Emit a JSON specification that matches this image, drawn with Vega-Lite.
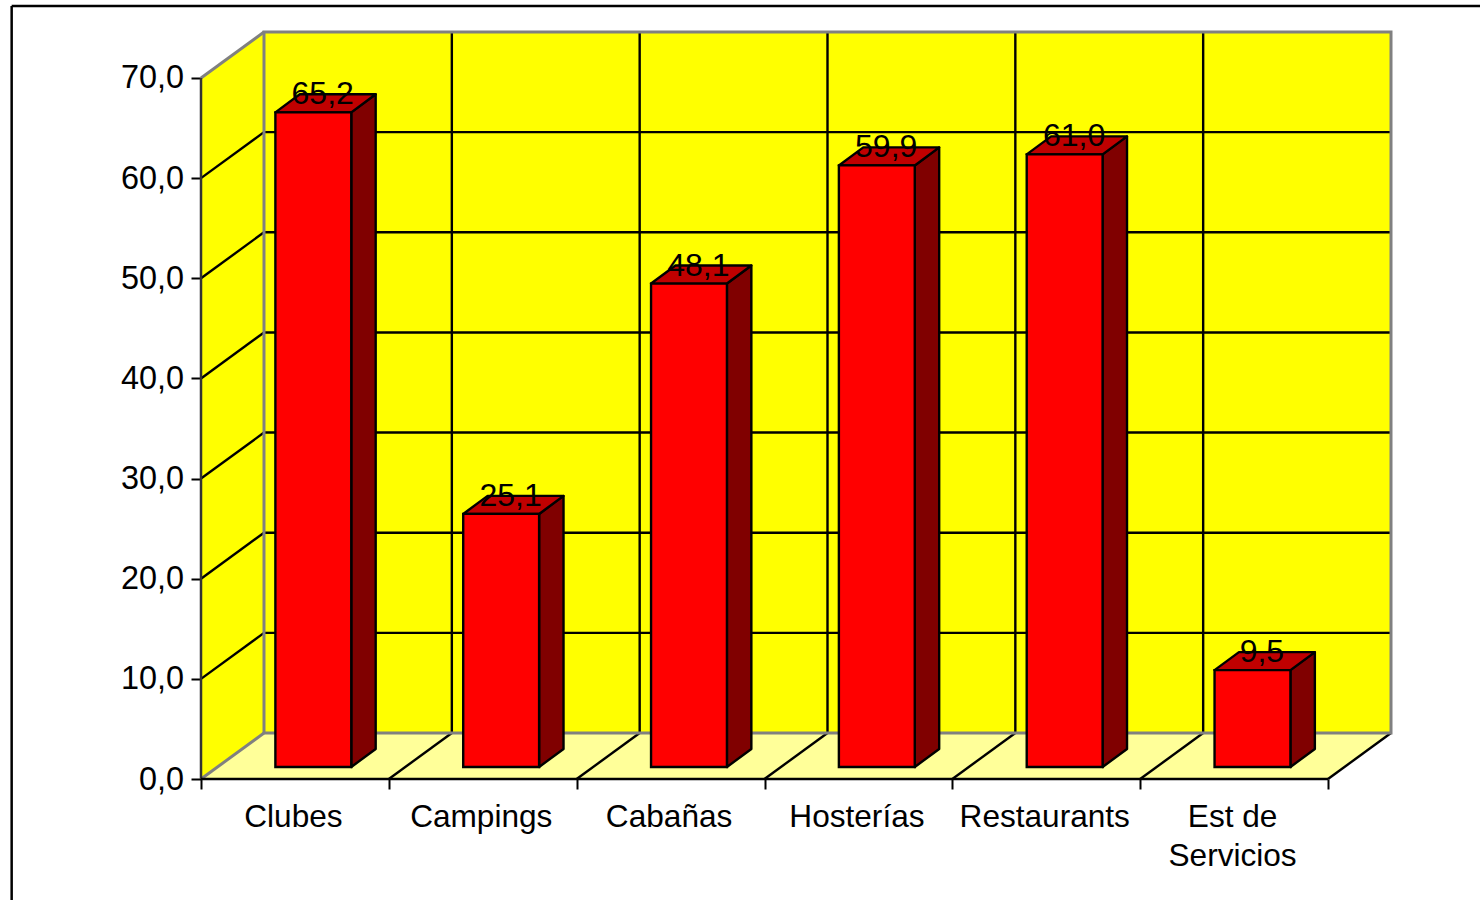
{"$schema":"https://vega.github.io/schema/vega-lite/v6.json","width":1190,"height":747,"autosize":"none","padding":{"left":201,"top":32,"right":89,"bottom":121},"background":"#ffffff","config":{"view":{"stroke":null}},
"resolve":{"axis":{"x":"independent","y":"independent"}},
"datasets":{"bars":[{"cat":"Clubes","idx":0,"value":65.2},{"cat":"Campings","idx":1,"value":25.1},{"cat":"Cabañas","idx":2,"value":48.1},{"cat":"Hosterías","idx":3,"value":59.9},{"cat":"Restaurants","idx":4,"value":61.0},{"cat":"Est de\nServicios","idx":5,"value":9.5}],"ticks":[{"v":0},{"v":10},{"v":20},{"v":30},{"v":40},{"v":50},{"v":60},{"v":70}],"splits":[{"k":0},{"k":1},{"k":2},{"k":3},{"k":4},{"k":5},{"k":6}],"depth":[{"d":0},{"d":1}],"one":[{"n":1}]},
"layer":[
{"data":{"name":"one"},"mark":{"type":"rect","fill":"#ffff00"},"encoding":{"x":{"datum":0.3354,"type":"quantitative","scale":{"domain":[0,6.3354],"nice":false,"zero":false},"axis":{"values":[0,1,2,3,4,5,6],"title":null,"labels":false,"domain":false,"grid":false,"tickSize":10,"tickWidth":2,"tickColor":"#000000"}},"x2":{"datum":6.3354},"y":{"datum":4.593,"type":"quantitative","scale":{"domain":[0,74.593],"nice":false,"zero":false},"axis":{"values":[0,10,20,30,40,50,60,70],"title":null,"domain":false,"grid":false,"tickSize":10,"tickWidth":2,"tickColor":"#000000","labelFont":"Liberation Sans","labelFontSize":32.4,"labelColor":"#000000","labelPadding":7.5,"labelExpr":"replace(format(datum.value,'.1f'),'.',',')"}},"y2":{"datum":74.593}}},
{"data":{"name":"depth"},"transform":[{"calculate":"0.3354*datum.d","as":"wx"},{"calculate":"4.593*datum.d","as":"wy"},{"calculate":"70+4.593*datum.d","as":"wy2"}],"mark":{"type":"area","fill":"#ffff00","orient":"vertical"},"encoding":{"x":{"field":"wx","type":"quantitative","scale":{"domain":[0,6.3354],"nice":false,"zero":false},"axis":null},"y":{"field":"wy","type":"quantitative","scale":{"domain":[0,74.593],"nice":false,"zero":false},"axis":null},"y2":{"field":"wy2"}}},
{"data":{"name":"depth"},"transform":[{"calculate":"0.3354*datum.d","as":"fx"},{"calculate":"6+0.3354*datum.d","as":"fx2"},{"calculate":"4.593*datum.d","as":"fy"}],"mark":{"type":"area","fill":"#ffff99","orient":"horizontal"},"encoding":{"y":{"field":"fy","type":"quantitative","scale":{"domain":[0,74.593],"nice":false,"zero":false},"axis":null},"x":{"field":"fx","type":"quantitative","scale":{"domain":[0,6.3354],"nice":false,"zero":false},"axis":null},"x2":{"field":"fx2"}}},
{"data":{"name":"ticks"},"transform":[{"filter":"datum.v>0 && datum.v<70"},{"calculate":"datum.v+4.593","as":"vb"},{"calculate":"0","as":"x0"},{"calculate":"0.3354","as":"x1"},{"calculate":"6.3354","as":"x2"}],"layer":[
{"mark":{"type":"rule","stroke":"#000000","strokeWidth":2.4},"encoding":{"x":{"field":"x0","type":"quantitative","scale":{"domain":[0,6.3354],"nice":false,"zero":false},"axis":null},"x2":{"field":"x1"},"y":{"field":"v","type":"quantitative","scale":{"domain":[0,74.593],"nice":false,"zero":false},"axis":null},"y2":{"field":"vb"}}},
{"mark":{"type":"rule","stroke":"#000000","strokeWidth":2.4},"encoding":{"x":{"field":"x1","type":"quantitative","scale":{"domain":[0,6.3354],"nice":false,"zero":false},"axis":null},"x2":{"field":"x2"},"y":{"field":"vb","type":"quantitative","scale":{"domain":[0,74.593],"nice":false,"zero":false},"axis":null}}}]},
{"data":{"name":"splits"},"transform":[{"filter":"datum.k>0"},{"calculate":"datum.k+0.3354","as":"kb"},{"calculate":"4.593","as":"yb"},{"calculate":"74.593","as":"yt"},{"calculate":"0","as":"y0"}],"layer":[
{"mark":{"type":"rule","stroke":"#000000","strokeWidth":2.4},"encoding":{"x":{"field":"k","type":"quantitative","scale":{"domain":[0,6.3354],"nice":false,"zero":false},"axis":null},"x2":{"field":"kb"},"y":{"field":"y0","type":"quantitative","scale":{"domain":[0,74.593],"nice":false,"zero":false},"axis":null},"y2":{"field":"yb"}}},
{"transform":[{"filter":"datum.k<6"}],"mark":{"type":"rule","stroke":"#000000","strokeWidth":2.4},"encoding":{"x":{"field":"kb","type":"quantitative","scale":{"domain":[0,6.3354],"nice":false,"zero":false},"axis":null},"y":{"field":"yb","type":"quantitative","scale":{"domain":[0,74.593],"nice":false,"zero":false},"axis":null},"y2":{"field":"yt"}}}]},
{"data":{"name":"one"},"mark":{"type":"rect","fill":null,"stroke":"#808080","strokeWidth":3},"encoding":{"x":{"datum":0.3354,"type":"quantitative","scale":{"domain":[0,6.3354],"nice":false,"zero":false},"axis":null},"x2":{"datum":6.3354},"y":{"datum":4.593,"type":"quantitative","scale":{"domain":[0,74.593],"nice":false,"zero":false},"axis":null},"y2":{"datum":74.593}}},
{"data":{"name":"one"},"mark":{"type":"rule","stroke":"#808080","strokeWidth":3},"encoding":{"x":{"datum":0,"type":"quantitative","scale":{"domain":[0,6.3354],"nice":false,"zero":false},"axis":null},"x2":{"datum":0.3354},"y":{"datum":0,"type":"quantitative","scale":{"domain":[0,74.593],"nice":false,"zero":false},"axis":null},"y2":{"datum":4.593}}},
{"data":{"name":"one"},"mark":{"type":"rule","stroke":"#808080","strokeWidth":3},"encoding":{"x":{"datum":0,"type":"quantitative","scale":{"domain":[0,6.3354],"nice":false,"zero":false},"axis":null},"x2":{"datum":0.3354},"y":{"datum":70,"type":"quantitative","scale":{"domain":[0,74.593],"nice":false,"zero":false},"axis":null},"y2":{"datum":74.593}}},
{"data":{"name":"one"},"mark":{"type":"rule","stroke":"#333333","strokeWidth":2.5},"encoding":{"x":{"datum":0,"type":"quantitative","scale":{"domain":[0,6.3354],"nice":false,"zero":false},"axis":null},"y":{"datum":0,"type":"quantitative","scale":{"domain":[0,74.593],"nice":false,"zero":false},"axis":null},"y2":{"datum":70}}},
{"data":{"name":"one"},"mark":{"type":"rule","stroke":"#000000","strokeWidth":2.5},"encoding":{"x":{"datum":0,"type":"quantitative","scale":{"domain":[0,6.3354],"nice":false,"zero":false},"axis":null},"x2":{"datum":6},"y":{"datum":0,"type":"quantitative","scale":{"domain":[0,74.593],"nice":false,"zero":false},"axis":null}}},
{"data":{"name":"bars"},"transform":[{"calculate":"[0,1]","as":"t"},{"flatten":["t"]},{"calculate":"datum.idx+0.80+0.13*datum.t","as":"sx"},{"calculate":"1.2+1.8*datum.t","as":"sy"},{"calculate":"datum.value+1.37+1.8*datum.t","as":"sy2"}],"mark":{"type":"area","fill":"#800000","stroke":"#000000","strokeWidth":2.4,"strokeJoin":"round","orient":"vertical"},"encoding":{"x":{"field":"sx","type":"quantitative","scale":{"domain":[0,6.3354],"nice":false,"zero":false},"axis":null},"y":{"field":"sy","type":"quantitative","scale":{"domain":[0,74.593],"nice":false,"zero":false},"axis":null},"y2":{"field":"sy2"},"detail":{"field":"cat"}}},
{"data":{"name":"bars"},"transform":[{"calculate":"[0,1]","as":"t"},{"flatten":["t"]},{"calculate":"datum.idx+0.396+0.13*datum.t","as":"tx"},{"calculate":"datum.idx+0.80+0.13*datum.t","as":"tx2"},{"calculate":"datum.value+1.37+1.8*datum.t","as":"ty"}],"mark":{"type":"area","fill":"#c00000","stroke":"#000000","strokeWidth":2.4,"strokeJoin":"round","orient":"horizontal"},"encoding":{"y":{"field":"ty","type":"quantitative","scale":{"domain":[0,74.593],"nice":false,"zero":false},"axis":null},"x":{"field":"tx","type":"quantitative","scale":{"domain":[0,6.3354],"nice":false,"zero":false},"axis":null},"x2":{"field":"tx2"},"detail":{"field":"cat"}}},
{"data":{"name":"bars"},"transform":[{"calculate":"datum.idx+0.396","as":"fl"},{"calculate":"datum.idx+0.80","as":"fr"},{"calculate":"1.2","as":"fb"},{"calculate":"datum.value+1.37","as":"ft"}],"mark":{"type":"rect","fill":"#ff0000","stroke":"#000000","strokeWidth":2.4},"encoding":{"x":{"field":"fl","type":"quantitative","scale":{"domain":[0,6.3354],"nice":false,"zero":false},"axis":null},"x2":{"field":"fr"},"y":{"field":"fb","type":"quantitative","scale":{"domain":[0,74.593],"nice":false,"zero":false},"axis":null},"y2":{"field":"ft"}}},
{"data":{"name":"bars"},"transform":[{"calculate":"datum.idx+0.648","as":"lx"},{"calculate":"datum.value+3.17","as":"ly"},{"calculate":"replace(format(datum.value,'.1f'),'.',',')","as":"lab"}],"mark":{"type":"text","font":"Liberation Sans","fontSize":32,"color":"#000000","align":"center","baseline":"middle"},"encoding":{"x":{"field":"lx","type":"quantitative","scale":{"domain":[0,6.3354],"nice":false,"zero":false},"axis":null},"y":{"field":"ly","type":"quantitative","scale":{"domain":[0,74.593],"nice":false,"zero":false},"axis":null},"text":{"field":"lab"}}},
{"data":{"name":"bars"},"transform":[{"calculate":"datum.idx+0.5","as":"cx"},{"calculate":"0","as":"cy"}],"mark":{"type":"text","font":"Liberation Sans","fontSize":31.6,"color":"#000000","align":"center","baseline":"top","dx":-1.5,"dy":23,"lineBreak":"\n","lineHeight":39},"encoding":{"x":{"field":"cx","type":"quantitative","scale":{"domain":[0,6.3354],"nice":false,"zero":false},"axis":null},"y":{"field":"cy","type":"quantitative","scale":{"domain":[0,74.593],"nice":false,"zero":false},"axis":null},"text":{"field":"cat"}}},
{"data":{"name":"one"},"mark":{"type":"rule","stroke":"#000000","strokeWidth":2.5},"encoding":{"x":{"datum":-1.008,"type":"quantitative","scale":{"domain":[0,6.3354],"nice":false,"zero":false},"axis":null},"y":{"datum":-13,"type":"quantitative","scale":{"domain":[0,74.593],"nice":false,"zero":false},"axis":null},"y2":{"datum":77.2}}},
{"data":{"name":"one"},"mark":{"type":"rule","stroke":"#000000","strokeWidth":2.5},"encoding":{"x":{"datum":-1.008,"type":"quantitative","scale":{"domain":[0,6.3354],"nice":false,"zero":false},"axis":null},"x2":{"datum":6.9},"y":{"datum":77.2,"type":"quantitative","scale":{"domain":[0,74.593],"nice":false,"zero":false},"axis":null}}}
]}
